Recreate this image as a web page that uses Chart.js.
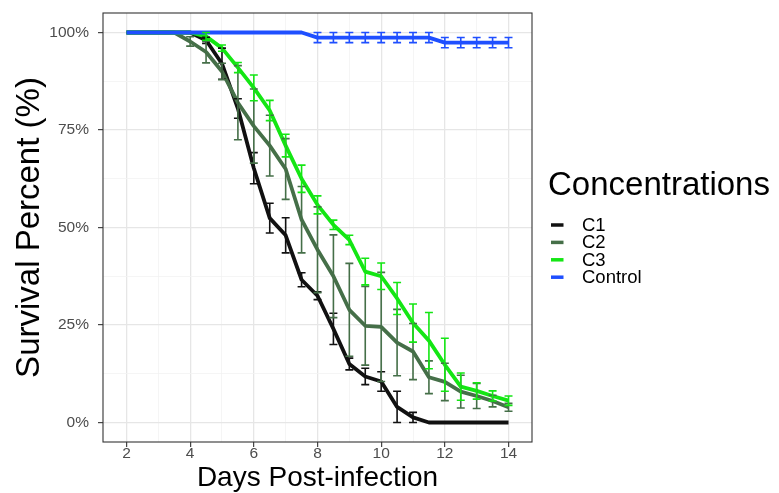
<!DOCTYPE html>
<html><head><meta charset="utf-8">
<script src="https://cdn.jsdelivr.net/npm/chart.js@4.4.1/dist/chart.umd.min.js"></script>
<style>html,body{margin:0;padding:0;background:#fff;}#wrap{position:relative;width:779px;height:493px;}</style>
</head><body><div id="wrap"><canvas id="c" width="779" height="493"></canvas></div>
<script>
const days = [2,2.5,3,3.5,4,4.5,5,5.5,6,6.5,7,7.5,8,8.5,9,9.5,10,10.5,11,11.5,12,12.5,13,13.5,14];
const c1    = [100,100,100,100,100,98,92,80.5,65.2,52.4,48,36.6,32.5,24,15,11.8,10.5,4,1.3,0,0,0,0,0,0];
const c1Err = [0,0,0,0,0,0.8,4,2.5,4,3.8,4.5,1.8,1,4,1.5,2.1,2.5,4,1.3,0,0,0,0,0,0];
const c2    = [100,100,100,100,97.7,95,90,82,76,71,65,52,44.3,37.5,28.9,24.8,24.5,20.5,18.2,11.6,10.4,7.9,6.8,5.5,3.9];
const c2Err = [0,0,0,0,1.2,2.8,2.1,9.5,9.5,7.8,7.8,8.5,11,10.6,11.9,10.1,14,8.5,7.2,4.2,4.8,4.2,3.2,1.5,1];
const c3    = [100,100,100,100,100,99,96,91,85.8,80,71,62.5,55.8,50.7,46.8,38.7,37.5,31.8,25.5,21,14.8,9.2,8.1,6.8,5.6];
const c3Err = [0,0,0,0,0,1,0.8,1.3,3.3,2.6,2.9,3.5,2.3,1.2,1.2,3.4,3.4,4.1,4.9,7.2,6.8,3.5,2.1,1.3,1.2];
const ctrl    = [100,100,100,100,100,100,100,100,100,100,100,100,98.7,98.7,98.7,98.7,98.7,98.7,98.7,98.7,97.4,97.4,97.4,97.4,97.4];
const ctrlErr = [0,0,0,0,0,0,0,0,0,0,0,0,1.3,1.3,1.3,1.3,1.3,1.3,1.3,1.3,1.3,1.3,1.3,1.3,1.3];
const seriesNames = ['C1','C2','C3','Control'];
const xMajor = [2,4,6,8,10,12,14];
const xMinor = [3,5,7,9,11,13];
const yMajor = [0,25,50,75,100];
const yMinor = [12.5,37.5,62.5,87.5];
const yLabels = ['0%','25%','50%','75%','100%'];

const colors = ['#111111','#456f48','#14e614','#1f4fff'];
const FONT = "'Liberation Sans', Arial, sans-serif";
const series = [
  {name:seriesNames[0], vals:c1, err:c1Err, color:colors[0], order:4},
  {name:seriesNames[1], vals:c2, err:c2Err, color:colors[1], order:3},
  {name:seriesNames[2], vals:c3, err:c3Err, color:colors[2], order:2},
  {name:seriesNames[3], vals:ctrl, err:ctrlErr, color:colors[3], order:1}
];

const plugin = {
  id:'extras',
  afterDatasetsDraw(chart){
    const {ctx, scales:{x,y}} = chart;
    ctx.save();
    ctx.lineWidth = 1.6;
    series.forEach(s=>{
      ctx.strokeStyle = s.color;
      s.vals.forEach((v,i)=>{
        const e = s.err[i]; if(!e) return;
        const px = x.getPixelForValue(days[i]);
        const hw = x.getPixelForValue(days[i]+0.125)-px;
        const pt = y.getPixelForValue(v+e), pb = y.getPixelForValue(v-e);
        ctx.beginPath();
        ctx.moveTo(px,pt); ctx.lineTo(px,pb);
        ctx.moveTo(px-hw,pt); ctx.lineTo(px+hw,pt);
        ctx.moveTo(px-hw,pb); ctx.lineTo(px+hw,pb);
        ctx.stroke();
      });
    });
    ctx.restore();
  },
  afterDraw(chart){
    const {ctx, chartArea:a} = chart;
    ctx.save();
    ctx.strokeStyle = '#333333'; ctx.lineWidth = 1.1;
    ctx.strokeRect(a.left, a.top, a.right-a.left, a.bottom-a.top);
    ctx.fillStyle = '#000';
    ctx.textAlign = 'center'; ctx.textBaseline = 'middle';
    ctx.font = '28px ' + FONT;
    ctx.fillText('Days Post-infection', (a.left+a.right)/2, 478);
    ctx.save();
    ctx.translate(30, (a.top+a.bottom)/2);
    ctx.rotate(-Math.PI/2);
    ctx.font = '33px ' + FONT;
    ctx.fillText('Survival Percent (%)', 0, 0);
    ctx.restore();
    ctx.textAlign = 'left';
    ctx.font = '33px ' + FONT;
    ctx.fillText('Concentrations', 548, 186);
    ctx.font = '18.5px ' + FONT;
    series.forEach((s,i)=>{
      const yy = 225 + i*17.4;
      ctx.strokeStyle = s.color; ctx.lineWidth = 3.5;
      ctx.beginPath(); ctx.moveTo(551,yy); ctx.lineTo(563.5,yy); ctx.stroke();
      ctx.fillStyle = '#000';
      ctx.fillText(s.name, 582, yy+1);
    });
    ctx.restore();
  }
};

const isMajorX = v => xMajor.includes(v);
const isMajorY = v => yMajor.includes(v);

new Chart(document.getElementById('c'), {
  type:'line',
  data:{
    datasets: series.map(s=>({
      label:s.name,
      data: days.map((d,i)=>({x:d, y:s.vals[i]})),
      borderColor:s.color, backgroundColor:s.color,
      borderWidth:3.8, pointRadius:0, tension:0, order:s.order,
      borderJoinStyle:'round', borderCapStyle:'butt', fill:false
    }))
  },
  options:{
    responsive:false, animation:false, devicePixelRatio:1,
    layout:{padding:{left:0, top:13, right:247, bottom:0}},
    plugins:{legend:{display:false}, tooltip:{enabled:false}},
    scales:{
      x:{
        type:'linear', min:1.2625, max:14.7375,
        afterBuildTicks: s => { s.ticks = [...xMajor, ...xMinor].sort((a,b)=>a-b).map(v=>({value:v})); },
        afterFit: s => { s.height = 51; s.paddingLeft = 0; s.paddingRight = 0; },
        ticks:{autoSkip:false, maxRotation:0, padding:-3, color:'#4d4d4d', font:{size:15.5, family:FONT},
          callback: v => isMajorX(v) ? String(v) : ''},
        grid:{
          color: c => isMajorX(c.tick.value) ? '#e6e6e6' : '#f2f2f2',
          lineWidth: c => isMajorX(c.tick.value) ? 1.3 : 0.8,
          tickLength:5,
          tickColor: c => isMajorX(c.tick.value) ? '#333333' : 'rgba(0,0,0,0)',
          tickWidth:1.1
        },
        border:{display:false}
      },
      y:{
        type:'linear', min:-5, max:105,
        afterBuildTicks: s => { s.ticks = [...yMajor, ...yMinor].sort((a,b)=>a-b).map(v=>({value:v})); },
        afterFit: s => { s.width = 103; s.paddingTop = 0; s.paddingBottom = 0; },
        ticks:{autoSkip:false, padding:9, color:'#4d4d4d', font:{size:15.5, family:FONT},
          callback: v => isMajorY(v) ? yLabels[yMajor.indexOf(v)] : ''},
        grid:{
          color: c => isMajorY(c.tick.value) ? '#e6e6e6' : '#f2f2f2',
          lineWidth: c => isMajorY(c.tick.value) ? 1.3 : 0.8,
          tickLength:5,
          tickColor: c => isMajorY(c.tick.value) ? '#333333' : 'rgba(0,0,0,0)',
          tickWidth:1.1
        },
        border:{display:false}
      }
    }
  },
  plugins:[plugin]
});
</script></body></html>
